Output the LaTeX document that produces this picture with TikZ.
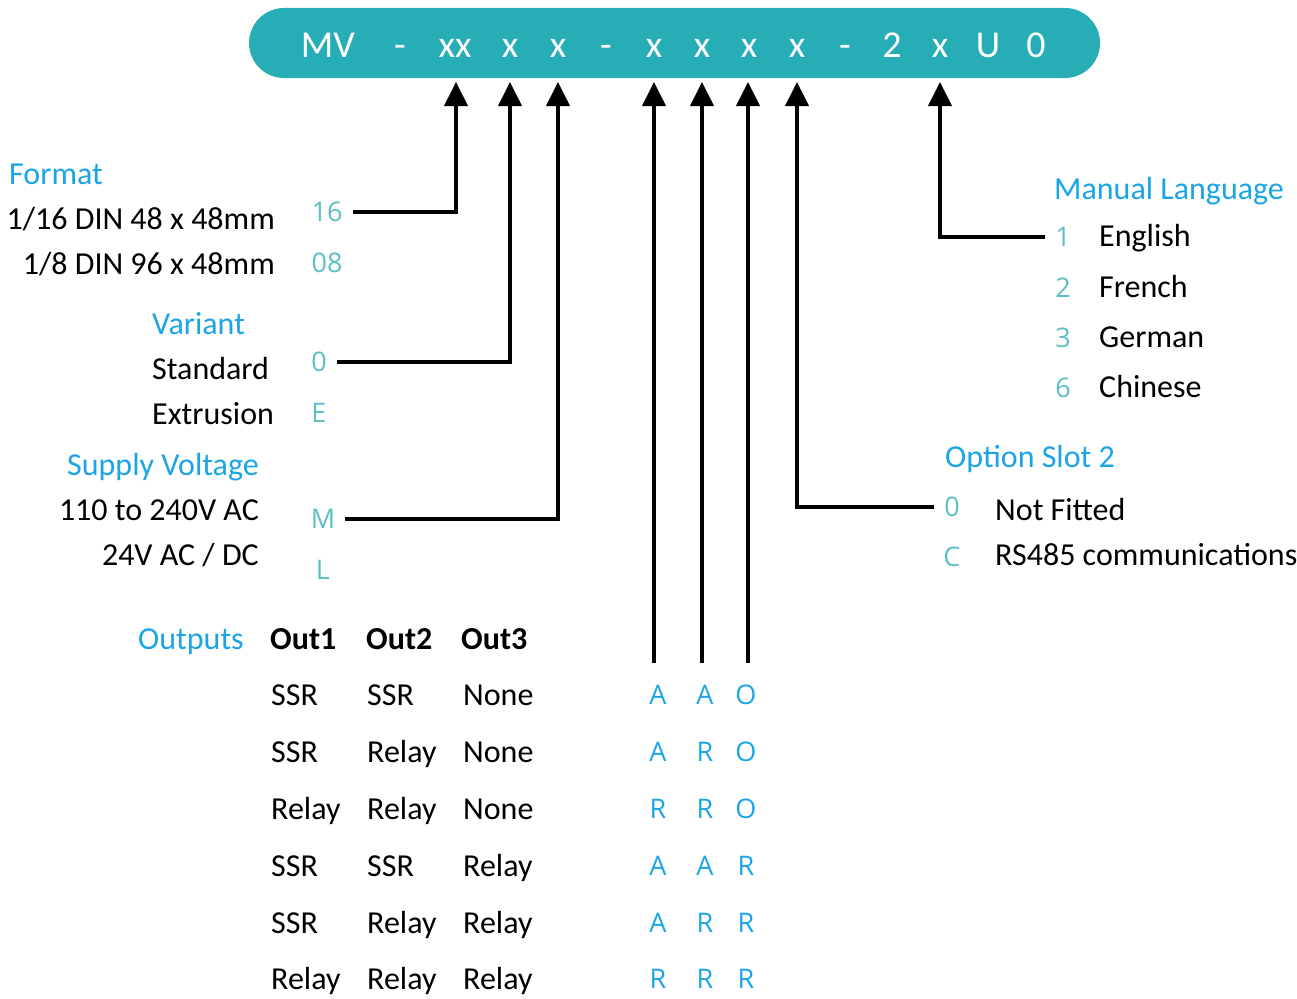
\documentclass[tikz,border=0pt]{standalone}
\usepackage{fontspec}
\setmainfont{Carlito}
\newfontfamily\codefont{Open Sans}
\usetikzlibrary{arrows.meta}
\definecolor{barteal}{HTML}{27ADB6}
\definecolor{codeteal}{HTML}{5DBFC4}
\definecolor{headblue}{HTML}{1BA4E6}

\tikzset{
    txt/.style={font=\fontsize{32}{37}\selectfont, inner sep=0pt, text height=21pt, text depth=0pt},
    head/.style={txt, text=headblue},
    code/.style={font=\codefont\fontsize{27}{32}\selectfont, text=codeteal, inner xsep=10pt, inner ysep=0pt, text height=19pt, text depth=0pt},
    outcode/.style={font=\codefont\fontsize{27}{32}\selectfont, text=headblue, inner sep=0pt, text height=19pt, text depth=0pt},
    bartxt/.style={font=\fontsize{38}{42}\selectfont, text=white, inner sep=0pt, text height=26pt, text depth=0pt},
    conn/.style={line width=4pt, -{Triangle[length=24pt,width=23pt]}},
}

\begin{document}
\begin{tikzpicture}[x=1pt, y=-1pt]
    \useasboundingbox (0,0) rectangle (1297,998);

    % part number bar
    \node[fill=barteal, rounded corners=35pt, minimum width=851pt, minimum height=70pt, inner sep=0pt] (bar) at (674.5,43) {};
    \foreach \x / \t / \n in {328/MV/mv, 400/-/d1, 455/xx/fmt, 510/x/var, 558/x/sup, 606/-/d2,
                              654/x/oa, 702/x/ob, 749/x/oc, 797/x/opt, 845/-/d3,
                              892/2/two, 940/x/lang, 988/U/u, 1036/0/zero}
        \node[bartxt] (b\n) at (\x, 44) {\t};
    \foreach \x / \n in {456/fmt, 510/var, 558/sup, 654/oa, 702/ob, 748/oc, 797/opt, 940/lang}
        \coordinate (tip\n) at (\x, 82);

    % format
    \node[head, anchor=west] (fmthead) at (9,174) {Format};
    \node[txt, anchor=east] (fmt16) at (275,219) {1/16 DIN 48 x 48mm};
    \node[txt, anchor=east] (fmt08) at (275,264) {1/8 DIN 96 x 48mm};
    \node[code] (c16) at (327,212) {16};
    \node[code] (c08) at (327,263) {08};

    % variant
    \node[head, anchor=west] (varhead) at (152,324) {Variant};
    \node[txt, anchor=west] (varstd) at (152,369) {Standard};
    \node[txt, anchor=west] (varext) at (152,414) {Extrusion};
    \node[code] (c0) at (319,362) {0};
    \node[code] (cE) at (319,413) {E};

    % supply
    \node[head, anchor=west] (suphead) at (67,465) {Supply Voltage};
    \node[txt, anchor=east] (supac) at (259,510) {110 to 240V AC};
    \node[txt, anchor=east] (supdc) at (259,555) {24V AC / DC};
    \node[code] (cM) at (323,519) {M};
    \node[code] (cL) at (323,570) {L};

    % outputs
    \node[head, anchor=west] (outhead) at (138,639) {Outputs};
    \foreach \x / \t in {270/Out1, 366/Out2, 461/Out3}
        \node[txt, anchor=west, font=\bfseries\fontsize{32}{37}\selectfont] (h\t) at (\x,639) {\t};
    \foreach \y / \a / \b / \c / \p / \q / \r [count=\i] in {
            695/SSR/SSR/None/A/A/O,
            752/SSR/Relay/None/A/R/O,
            809/Relay/Relay/None/R/R/O,
            866/SSR/SSR/Relay/A/A/R,
            923/SSR/Relay/Relay/A/R/R,
            979/Relay/Relay/Relay/R/R/R} {
        \node[txt, anchor=west] (row\i a) at (271,\y) {\a};
        \node[txt, anchor=west] (row\i b) at (367,\y) {\b};
        \node[txt, anchor=west] (row\i c) at (463,\y) {\c};
        \node[outcode] (oc\i a) at (658,\y) {\p};
        \node[outcode] (oc\i b) at (705,\y) {\q};
        \node[outcode] (oc\i c) at (746,\y) {\r};
    }
    \foreach \x / \n in {654/oa, 702/ob, 748/oc}
        \coordinate (foot\n) at (\x, 663);

    % manual language
    \node[head, anchor=west] (langhead) at (1054,189) {Manual Language};
    \foreach \y / \d / \l in {237/1/English, 288/2/French, 338/3/German, 388/6/Chinese} {
        \node[code] (lang\d) at (1063,\y) {\d};
        \node[txt, anchor=west] (lname\d) at (1099,\y-1) {\l};
    }

    % option slot 2
    \node[head, anchor=west] (opthead) at (945,457) {Option Slot 2};
    \node[code] (opt0) at (952,507) {0};
    \node[code] (optC) at (952,557) {C};
    \node[txt, anchor=west] (optnf) at (995,510) {Not Fitted};
    \node[txt, anchor=west] (optrs) at (995,555) {RS485 communications};

    % connectors
    \draw[conn] (c16.east) -| (tipfmt);
    \draw[conn] (c0.east) -| (tipvar);
    \draw[conn] (cM.east) -| (tipsup);
    \foreach \n in {oa, ob, oc}
        \draw[conn] (foot\n) -- (tip\n);
    \draw[conn] (opt0.west) -| (tipopt);
    \draw[conn] (lang1.west) -| (tiplang);
\end{tikzpicture}
\end{document}
